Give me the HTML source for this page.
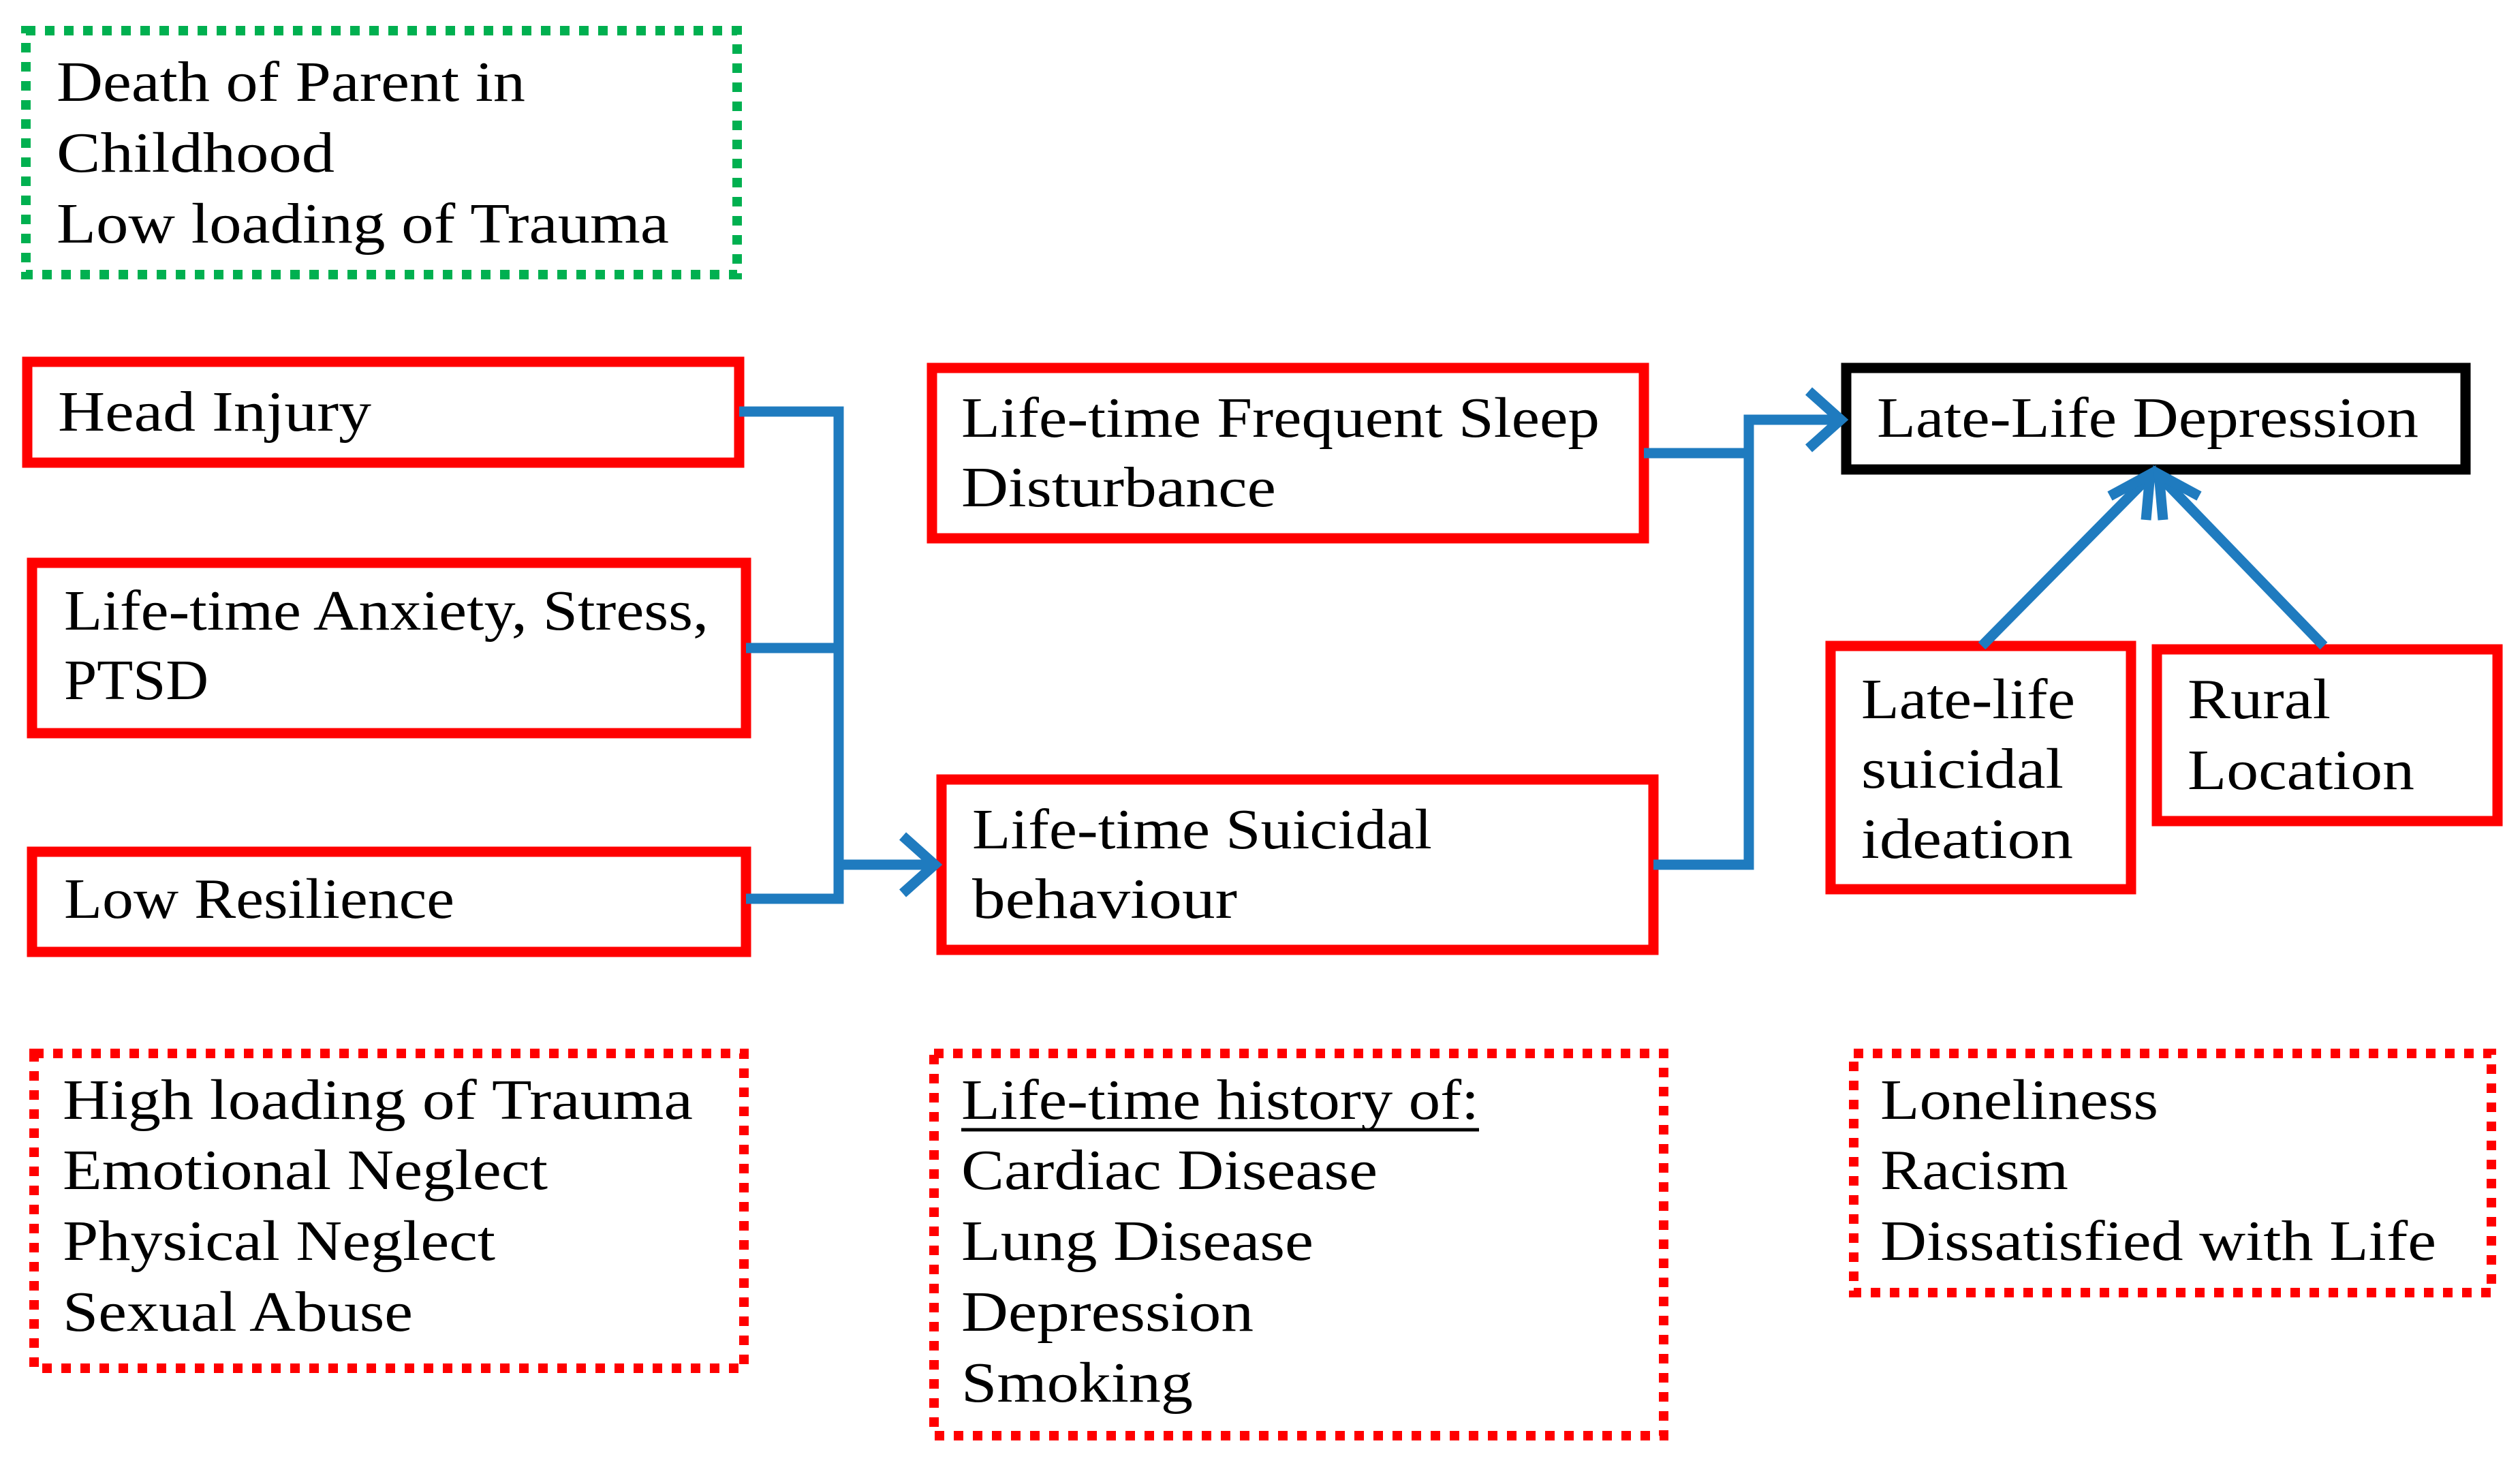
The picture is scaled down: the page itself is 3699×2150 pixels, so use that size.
<!DOCTYPE html>
<html><head><meta charset="utf-8"><style>
html,body{margin:0;padding:0;background:#fff;}
svg{display:block;}
text{font-family:"Liberation Serif",serif;font-size:84px;fill:#000;}
</style></head><body>
<svg width="3699" height="2150" viewBox="0 0 3699 2150" xmlns="http://www.w3.org/2000/svg">
<rect width="3699" height="2150" fill="#fff"/>
<g fill="none" stroke-linejoin="miter">
<rect x="38" y="45" width="1044" height="358" stroke="#00b050" stroke-width="14" stroke-dasharray="14 14"/>
<rect x="40" y="531" width="1045" height="148" stroke="#ff0000" stroke-width="15"/>
<rect x="47" y="826" width="1048" height="250" stroke="#ff0000" stroke-width="15"/>
<rect x="47" y="1250" width="1048" height="147" stroke="#ff0000" stroke-width="15"/>
<rect x="1368" y="540" width="1045" height="250" stroke="#ff0000" stroke-width="15"/>
<rect x="1382" y="1144" width="1045" height="250" stroke="#ff0000" stroke-width="15"/>
<rect x="2710" y="540" width="909" height="149" stroke="#000" stroke-width="15"/>
<rect x="2687" y="948" width="441" height="357" stroke="#ff0000" stroke-width="15"/>
<rect x="3166" y="953" width="500" height="252" stroke="#ff0000" stroke-width="15"/>
<rect x="50" y="1546" width="1042" height="462" stroke="#ff0000" stroke-width="14" stroke-dasharray="14 14"/>
<rect x="1371" y="1546" width="1071" height="561" stroke="#ff0000" stroke-width="14" stroke-dasharray="14 14"/>
<rect x="2721" y="1546" width="936" height="351" stroke="#ff0000" stroke-width="14" stroke-dasharray="14 14"/>
</g>
<g fill="none" stroke="#1f7bbf" stroke-width="15">
<polyline points="1085,604 1231,604 1231,1319 1095,1319"/>
<line x1="1095" y1="951" x2="1231" y2="951"/>
<line x1="1231" y1="1269" x2="1370" y2="1269"/>
<polyline points="1325,1227 1372,1269 1325,1311"/>
<polyline points="2413,665 2567,665 2567,1269 2427,1269"/>
<polyline points="2567,1269 2567,616 2700,616"/>
<polyline points="2655,574 2702,616 2655,658"/>
<line x1="2909" y1="948" x2="3154" y2="700"/>
<line x1="3411" y1="948" x2="3171" y2="700"/>
<polyline points="3097,728 3156,696 3150,763"/>
<polyline points="3228,728 3169,696 3175,763"/>
</g>
<g>
<text x="83" y="148" textLength="688" lengthAdjust="spacingAndGlyphs">Death of Parent in</text>
<text x="83" y="252" textLength="408" lengthAdjust="spacingAndGlyphs">Childhood</text>
<text x="83" y="356" textLength="899" lengthAdjust="spacingAndGlyphs">Low loading of Trauma</text>
<text x="85" y="632" textLength="460" lengthAdjust="spacingAndGlyphs">Head Injury</text>
<text x="94" y="924" textLength="946" lengthAdjust="spacingAndGlyphs">Life-time Anxiety, Stress,</text>
<text x="94" y="1026" textLength="212" lengthAdjust="spacingAndGlyphs">PTSD</text>
<text x="94" y="1347" textLength="573" lengthAdjust="spacingAndGlyphs">Low Resilience</text>
<text x="1411" y="641" textLength="937" lengthAdjust="spacingAndGlyphs">Life-time Frequent Sleep</text>
<text x="1411" y="743" textLength="462" lengthAdjust="spacingAndGlyphs">Disturbance</text>
<text x="1427" y="1245" textLength="675" lengthAdjust="spacingAndGlyphs">Life-time Suicidal</text>
<text x="1427" y="1347" textLength="389" lengthAdjust="spacingAndGlyphs">behaviour</text>
<text x="2755" y="641" textLength="795" lengthAdjust="spacingAndGlyphs">Late-Life Depression</text>
<text x="2732" y="1054" textLength="314" lengthAdjust="spacingAndGlyphs">Late-life</text>
<text x="2732" y="1156" textLength="297" lengthAdjust="spacingAndGlyphs">suicidal</text>
<text x="2732" y="1259" textLength="311" lengthAdjust="spacingAndGlyphs">ideation</text>
<text x="3211" y="1054" textLength="210" lengthAdjust="spacingAndGlyphs">Rural</text>
<text x="3211" y="1158" textLength="333" lengthAdjust="spacingAndGlyphs">Location</text>
<text x="92" y="1642" textLength="925" lengthAdjust="spacingAndGlyphs">High loading of Trauma</text>
<text x="92" y="1745" textLength="712" lengthAdjust="spacingAndGlyphs">Emotional Neglect</text>
<text x="92" y="1849" textLength="635" lengthAdjust="spacingAndGlyphs">Physical Neglect</text>
<text x="92" y="1953" textLength="514" lengthAdjust="spacingAndGlyphs">Sexual Abuse</text>
<text x="1411" y="1642" textLength="760" lengthAdjust="spacingAndGlyphs">Life-time history of:</text>
<line x1="1411" y1="1658" x2="2171" y2="1658" stroke="#000" stroke-width="5"/>
<text x="1411" y="1745" textLength="611" lengthAdjust="spacingAndGlyphs">Cardiac Disease</text>
<text x="1411" y="1849" textLength="517" lengthAdjust="spacingAndGlyphs">Lung Disease</text>
<text x="1411" y="1953" textLength="429" lengthAdjust="spacingAndGlyphs">Depression</text>
<text x="1411" y="2057" textLength="340" lengthAdjust="spacingAndGlyphs">Smoking</text>
<text x="2760" y="1642" textLength="408" lengthAdjust="spacingAndGlyphs">Loneliness</text>
<text x="2760" y="1745" textLength="276" lengthAdjust="spacingAndGlyphs">Racism</text>
<text x="2760" y="1849" textLength="816" lengthAdjust="spacingAndGlyphs">Dissatisfied with Life</text>
</g>
</svg>
</body></html>
